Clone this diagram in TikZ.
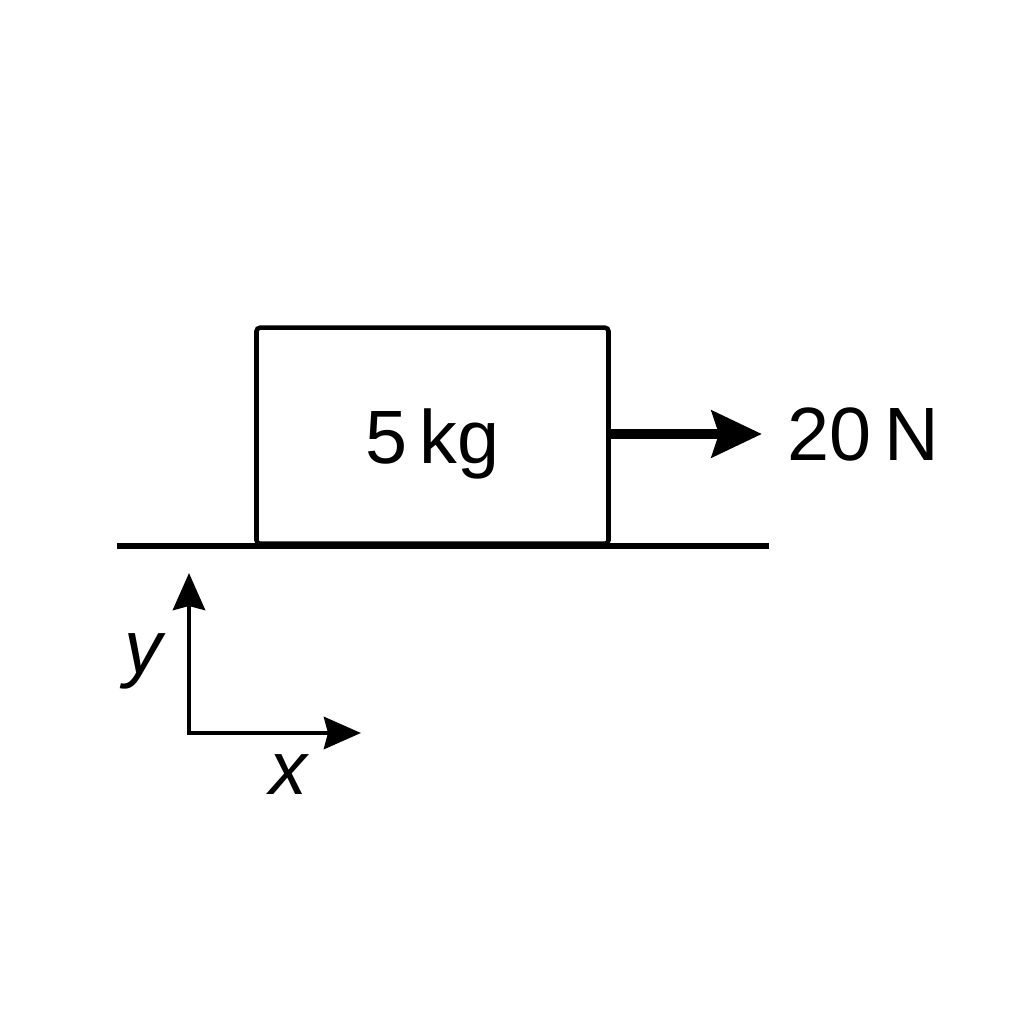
\documentclass[tikz,border=0pt]{standalone}
\usepackage{fontspec}
\setmainfont{Liberation Sans}
\usetikzlibrary{arrows.meta,positioning}

\tikzset{
  lab/.style={inner sep=0pt, text depth=0pt, font=\fontsize{21.5}{26}\selectfont},
  block/.style={draw, line width=1.3pt, rounded corners=1pt, minimum width=3.52cm,
    minimum height=2.16cm, inner sep=0pt, text depth=0pt, font=\fontsize{21.5}{26}\selectfont},
  ground/.style={line width=1.7pt},
  force/.style={line width=3pt, -{Stealth[length=0.5cm, width=0.46cm, inset=0.07cm]}},
  axis/.style={line width=1.4pt, miter limit=10, {Stealth[length=0.37cm, width=0.32cm, inset=0.04cm]}-{Stealth[length=0.37cm, width=0.32cm, inset=0.04cm]}}
}

\begin{document}
\begin{tikzpicture}
  \useasboundingbox (0,0) rectangle (10.24,10.24);

  % chão
  \coordinate (gl) at (1.17,4.78);
  \coordinate (gr) at (7.69,4.78);
  \draw[ground] (gl) -- (gr);

  % bloco
  \node[block, anchor=south] (blk) at (4.325,4.78) {5\,kg};

  % força aplicada
  \coordinate (ftip) at (7.62,5.90);
  \draw[force] (blk.east |- ftip) -- (ftip);
  \node[lab, anchor=west, right=0.25cm of ftip] (flab) {20\,N};

  % eixos
  \coordinate (O) at (1.89,2.91);
  \coordinate (xt) at (3.61,2.91);
  \coordinate (yt) at (1.89,4.51);
  \draw[axis] (yt) |- (xt);
  \node[lab, font=\fontsize{21.5}{26}\selectfont\itshape, anchor=base] (ylab) at (1.43,3.50) {y};
  \node[lab, font=\fontsize{21.5}{26}\selectfont\itshape, anchor=base] (xlab) at (2.88,2.29) {x};
\end{tikzpicture}
\end{document}
